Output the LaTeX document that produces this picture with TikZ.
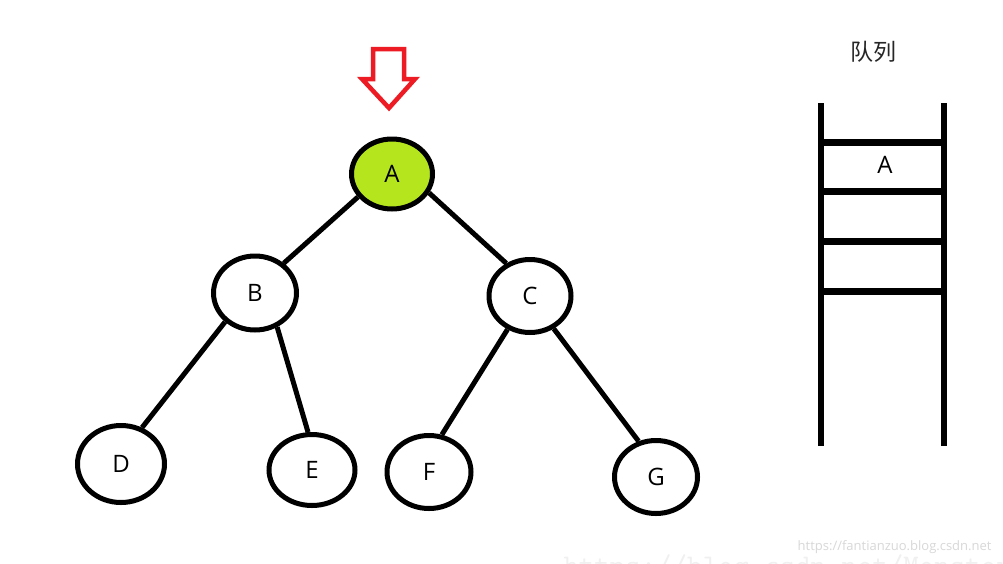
\documentclass[tikz,border=0pt]{standalone}
\usepackage{fontspec}
\setmainfont{Open Sans}
\newfontfamily\cjk{Noto Sans CJK SC}
\usetikzlibrary{shapes.geometric}
\definecolor{lime}{HTML}{B5E61D}
\definecolor{arrowred}{HTML}{ED1C24}
\definecolor{wmgray}{HTML}{D8D8D8}
\tikzset{
  tnode/.style={ellipse,draw=black,line width=5pt,fill=white,inner sep=0pt,font=\fontsize{24}{24}\selectfont},
  tedge/.style={line width=5pt},
  qline/.style={line width=6pt},
  qbar/.style={line width=7pt},
}
\begin{document}
\begin{tikzpicture}[x=1pt,y=-1pt]
\useasboundingbox (0,0) rectangle (1003,563);
\fill[white] (0,0) rectangle (1003,563);
% edges (drawn first, nodes on top)
\node[tnode,fill=lime,minimum width=81pt,minimum height=70pt] (A) at (392,174) {A};
\node[tnode,minimum width=83pt,minimum height=74pt] (B) at (255,293) {B};
\node[tnode,minimum width=82pt,minimum height=73pt] (C) at (530,296) {C};
\node[tnode,minimum width=87pt,minimum height=77pt] (D) at (121,464) {D};
\node[tnode,minimum width=86pt,minimum height=71pt] (E) at (312,470) {E};
\node[tnode,minimum width=84pt,minimum height=73pt] (F) at (429,472) {F};
\node[tnode,minimum width=83pt,minimum height=73pt] (G) at (656,477) {G};
\draw[tedge] (A.214) -- (B.46);
\draw[tedge] (A.-27) -- (C.126);
\draw[tedge] (B.224) -- (D.60);
\draw[tedge] (B.-57) -- (E.96);
\draw[tedge] (C.236) -- (F.71);
\draw[tedge] (C.-54) -- (G.116);
% red hollow arrow
\draw[arrowred,line width=4.5pt,line join=miter,fill=white]
  (373,49) -- (404,49) -- (404,79) -- (415,79) -- (389,108) -- (362,79) -- (373,79) -- cycle;
% queue
\node[font=\cjk\fontsize{23}{23}\selectfont,text=black!85] (qt) at (873,52) {队列};
\coordinate (qlt) at (821,103);
\coordinate (qlb) at (821,446);
\coordinate (qrt) at (944,103);
\coordinate (qrb) at (944,446);
\draw[qline] (qlt) -- (qlb);
\draw[qline] (qrt) -- (qrb);
\foreach \yy in {142,191,241,291}{
  \draw[qbar] (821,\yy) -- (944,\yy);
}
\node[font=\fontsize{24}{24}\selectfont] (qa) at (885,165) {A};
% watermarks
\begin{scope}
\clip (0,0) rectangle (1003,563);
\node[font=\ttfamily\fontsize{30}{30}\selectfont,text=black!6,anchor=base west] (wm2) at (560,575) {https://blog.csdn.net/Monster\_ii};
\end{scope}
\node[font=\fontsize{13}{13}\selectfont,text=wmgray,anchor=base east] (wm1) at (995,550) {https://fantianzuo.blog.csdn.net};
\end{tikzpicture}
\end{document}
